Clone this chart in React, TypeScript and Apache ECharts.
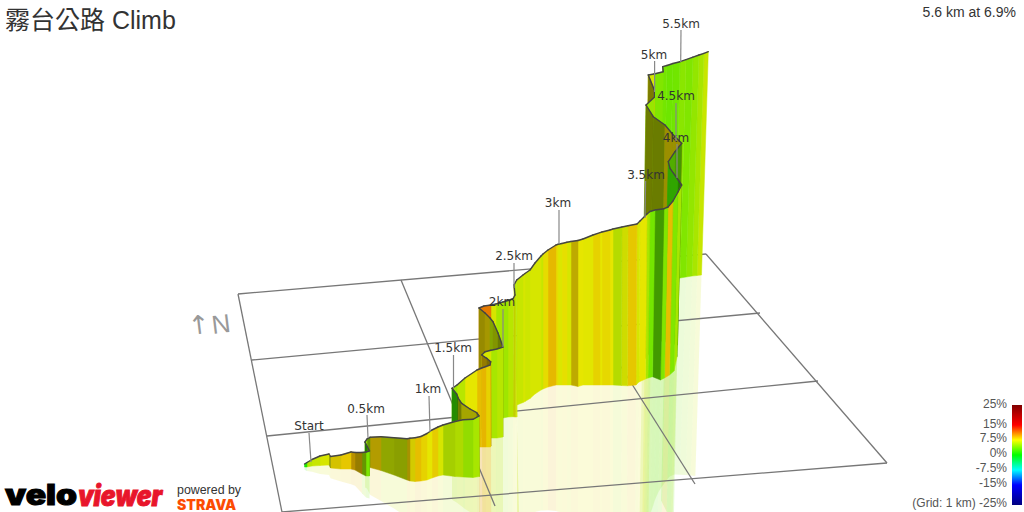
import React, { useEffect, useRef } from "react";
import * as echarts from "echarts";

// Route wall, in picture-space data units (x right, y down).
// Each row i: top of wall (routeX, routeTop), foot of wall (footX, footY), grade % of the stretch i -> i+1.
const routeX = [
  304.5, 307, 312, 320, 329, 330.5, 341, 351, 355, 362, 366, 369.5, 367.5, 365, 367,
  370, 381, 394, 407, 410, 415, 421, 427, 432, 438, 443, 455, 463, 473, 479,
  476.7, 470, 461.7, 458.3, 456.7,
  452, 457, 465, 477, 481.7, 486, 490,
  490.7, 486.7, 481.7, 485, 491, 497,
  503, 498, 493, 490, 485,
  479, 484, 491, 496, 503, 508, 513.3, 515, 514,
  516.7, 523, 525, 530, 535, 541, 543, 548, 556, 558, 562, 567, 571, 578, 583, 593, 600, 602, 610, 613, 622, 628, 637, 640, 647, 650, 655, 664, 668, 673, 678,
  681.7, 678.3, 670, 668.3, 675, 681.7, 673.3, 665, 653.3,
  646, 654.3, 654.3,
  648.3, 654, 663.3, 662.7, 667, 673, 680, 686, 693, 699, 704, 708.3,
];
const routeTop = [
  464, 462.5, 459.5, 456, 454, 456.5, 455, 452, 452.5, 452.5, 452, 451, 447, 442, 439,
  437.3, 436.7, 437.7, 438.7, 438.2, 437.8, 436.5, 433.5, 430, 427, 425, 421.5, 419.8, 419.3, 416,
  412.7, 409, 403.3, 398.3, 394,
  388.3, 385, 378, 370, 368, 366.5, 365,
  361.7, 358.3, 355, 351.7, 350.3, 349,
  347, 333, 321.7, 318, 313,
  308, 306, 305, 304, 302, 300.5, 298.3, 295, 285,
  280, 275, 273.5, 270, 263, 256, 254, 250, 245, 244.3, 243.5, 242.3, 241.5, 240.5, 239, 235, 232.7, 232, 230, 229, 227, 225.8, 224, 221, 214, 211.5, 210, 208.7, 207, 201, 192,
  185, 180, 168.3, 161.7, 151.7, 143.3, 135, 125, 116.7,
  105, 97.3, 90,
  75, 74, 71.7, 66.7, 65.5, 63.5, 61.7, 59.7, 57.2, 55, 53.4, 51.7,
];
const footX = [
  304.5, 307, 312, 320, 329, 330.5, 341, 351, 355, 362, 366, 369.5, 367.5, 365, 367,
  370, 381, 394, 407, 410, 415, 421, 427, 432, 438, 443, 455, 463, 473, 479.5,
  477, 470, 462, 458, 457,
  452, 457, 465, 477, 481.7, 486, 490.5,
  491, 487, 482, 485, 491, 497,
  503, 498, 493, 490, 485,
  479, 484, 491, 496, 503, 508, 513, 515.5, 516.8,
  517, 523, 525, 530, 535, 541, 543, 548, 556, 558, 562, 567, 571, 578, 583, 593, 600, 602, 610, 613, 621.5, 627.5, 636, 639, 645.5, 648, 652.5, 660.5, 664.5, 669.5, 674,
  677, 674.5, 666.5, 664.5, 671, 677.5, 669.5, 661.5, 649.5,
  642, 650.3, 651,
  645, 650.5, 658, 658.5, 662.5, 668, 674.5, 680, 686, 692, 697, 701.5,
];
const footY = [
  467, 467, 466, 465.5, 465, 468, 469, 469, 470, 474, 476, 476, 470, 466, 465,
  467.5, 470.5, 475, 480, 481, 481.5, 481, 480, 478, 476, 475, 476.5, 477, 477.5, 476.5,
  445, 445, 445, 440, 444,
  447, 447, 447, 447, 447, 447, 447,
  446, 440, 438, 438, 438, 438,
  437, 432, 430, 430, 430,
  428, 426, 422, 420, 418, 417, 416.7, 417, 417,
  405, 402.5, 401.5, 398.5, 394, 390, 389, 387, 385, 385, 385, 385, 385, 386.5, 385, 385, 385, 385, 385, 385, 385.5, 385.8, 385, 382, 379, 378, 376.7, 380, 378, 375, 371,
  356.7, 340, 340, 340, 342, 345, 343, 341, 353,
  363, 345, 330,
  320, 310, 300, 295, 290, 285, 280, 278, 277, 276, 275.5, 275,
];
const routeGrade = [
  1, 6, 6.5, 7, 7, 8.15, 8.5, 9.1, 8.8, 5, 4, 5, 2, 5, 5,
  8.5, 6.5, 6.5, 8.5, 7.8, 8.8, 8.15, 7.5, 8.35, 7, 6, 6, 5, 5.5, 7.5,
  7.5, 7.5, 7, 2.5, 2,
  5, 6, 7.5, 8.8, 9.1, 8.15, 9.1,
  8.5, 8.8, 7, 7, 5.5, 6,
  6.5, 6.5, 6, 8.15, 8.15,
  11, 11, 7, 5.5, 5.2, 6, 7, 7, 6,
  6.5, 7, 6.7, 7, 7, 6.5, 7.8, 9, 7.8, 7.2, 7.7, 7, 8.3, 7.5, 7.4, 8.15, 7.5, 7.95, 7.5, 6.2, 7, 8.5, 7, 7.5, 5.5, 3.8, 3.2, 4.2, 8.8, 4.2, 5.5,
  2.2, 2.2, 2.2, 3.5, 3.5, 8.1, 8.1, 6.4, 6.6,
  5, 7.8, 7.5,
  7, 4.2, 4, 3.8, 3.6, 3.7, 4.5, 4.2, 4.8, 5.5, 6.5, 7,
];

// km markers: label text and centre, then leader line start and end
const kmNames = ["Start", "0.5km", "1km", "1.5km", "2km", "2.5km", "3km", "3.5km", "4km", "4.5km", "5km", "5.5km"];
const kmLabelX = [309, 366, 428, 453, 502, 514, 558, 646, 676, 676, 654, 681];
const kmLabelY = [426, 409, 389, 348, 302, 256, 203, 175, 138, 96, 55, 24];
const kmLineX0 = [309, 367, 429, 453.5, 503, 514, 559, 645.6, 677, 676, 654.6, 681];
const kmLineY0 = [433, 415, 396, 355, 309, 263, 210, 181, 144, 103, 61, 30];
const kmLineX1 = [311, 368, 430, 453.5, 503, 514, 559, 645, 677, 676, 654.6, 680.7];
const kmLineY1 = [462, 438, 432, 388, 347, 288, 244, 218, 178, 141, 92, 62];

// ground grid: x0, y0, x1, y1
const groundLines = [
  [238, 294, 706, 254],
  [252, 360, 760, 313],
  [267, 436, 818, 381],
  [282, 512, 887, 463],
  [238, 294, 285, 527],
  [401, 280, 495, 506],
  [558, 267, 695, 484],
  [706, 254, 887, 463],
];

// colour scale of the legend
const scaleGrades = [25, 15, 7.5, 0, -7.5, -15, -25];
const scaleColors = [
  [128, 0, 0],
  [255, 0, 0],
  [255, 255, 0],
  [0, 255, 0],
  [0, 255, 255],
  [0, 0, 255],
  [0, 0, 128],
];
const legendTexts = ["25%", "15%", "7.5%", "0%", "-7.5%", "-15%", "(Grid: 1 km) -25%"];
const legendTextY = [404, 424, 438, 453, 468, 483, 503];

const TITLE = "霧台公路 Climb";
const SUMMARY = "5.6 km at 6.9%";

function gradeRgb(g: number): number[] {
  for (let k = 0; k < scaleGrades.length - 1; k++) {
    const a = scaleGrades[k];
    const b = scaleGrades[k + 1];
    if (g <= a && g >= b) {
      const t = (a - g) / (a - b);
      return scaleColors[k].map((c, n) => c + (scaleColors[k + 1][n] - c) * t);
    }
  }
  return scaleColors[3];
}
const css = (c: number[], f = 1) => `rgb(${c.map((v) => Math.round(v * f)).join(",")})`;

// walls facing the viewer are lit; turned away or inner faces are darker
function wallLight(i: number): number {
  const dx = footX[i + 1] - footX[i];
  const dy = footY[i + 1] - footY[i];
  if (dx <= 0) return 0.72 - 0.18 * Math.min(1, Math.abs(dy / (dx || 1)));
  const t = dy / dx;
  return t <= 0 ? 1 : 1 - Math.min(0.34, t * 0.8);
}

const MIRROR = 0.9;

export default function App() {
  const ref = useRef<HTMLDivElement>(null);
  useEffect(() => {
    document.body.style.margin = "0";
    const chart = echarts.init(ref.current!, undefined, { renderer: "svg" });
    const segs = routeX.slice(0, -1).map((_, i) => [i, 0]);
    const back = [...segs].reverse();
    const front = back.filter(([i]) => footX[i + 1] > footX[i]);
    const ARIAL = '"Liberation Sans", "Noto Sans CJK TC", sans-serif';
    const legendStops = scaleGrades.map((g, k) => ({
      offset: (25 - g) / 50,
      color: css(scaleColors[k]),
    }));
    chart.setOption({
      animation: false,
      backgroundColor: "#fff",
      grid: { left: 0, right: 0, top: 0, bottom: 0 },
      xAxis: { type: "value", min: 0, max: 1024, show: false },
      yAxis: { type: "value", min: 0, max: 512, inverse: true, show: false },
      series: [
        {
          type: "custom",
          coordinateSystem: "cartesian2d",
          silent: true,
          clip: true,
          z: 1,
          data: front,
          renderItem: (_p: any, api: any) => {
            const i = api.value(0);
            const mx = (k: number) => footX[k] + (footX[k] - routeX[k]) * MIRROR;
            const my = (k: number) => footY[k] + (footY[k] - routeTop[k]) * MIRROR;
            return {
              type: "polygon",
              shape: {
                points: [
                  api.coord([footX[i], footY[i]]),
                  api.coord([footX[i + 1], footY[i + 1]]),
                  api.coord([mx(i + 1), my(i + 1)]),
                  api.coord([mx(i), my(i)]),
                ],
              },
              style: { fill: css(gradeRgb(routeGrade[i]), 0.9), opacity: 0.15 },
            };
          },
        },
        {
          type: "custom",
          coordinateSystem: "cartesian2d",
          silent: true,
          z: 2,
          data: groundLines.map((_, i) => [i, 0]),
          renderItem: (_p: any, api: any) => {
            const [x0, y0, x1, y1] = groundLines[api.value(0)];
            const a = api.coord([x0, y0]);
            const b = api.coord([x1, y1]);
            return {
              type: "line",
              shape: { x1: a[0], y1: a[1], x2: b[0], y2: b[1] },
              style: { stroke: "#777", lineWidth: 1.3 },
            };
          },
        },
        {
          type: "custom",
          coordinateSystem: "cartesian2d",
          silent: true,
          z: 3,
          data: back,
          renderItem: (_p: any, api: any) => {
            const i = api.value(0);
            const fill = css(gradeRgb(routeGrade[i]), 0.9 * wallLight(i));
            const a = api.coord([routeX[i], routeTop[i]]);
            const b = api.coord([routeX[i + 1], routeTop[i + 1]]);
            return {
              type: "group",
              children: [
                {
                  type: "polygon",
                  shape: {
                    points: [a, b, api.coord([footX[i + 1], footY[i + 1]]), api.coord([footX[i], footY[i]])],
                  },
                  style: { fill, stroke: fill, lineWidth: 0.5 },
                },
                {
                  type: "polyline",
                  shape: { points: [a, b] },
                  style: { stroke: "#444", lineWidth: 1.4, fill: "none", lineCap: "round" },
                },
              ],
            };
          },
        },
        {
          type: "custom",
          coordinateSystem: "cartesian2d",
          silent: true,
          z: 4,
          data: kmNames.map((_, i) => [i, 0]),
          renderItem: (_p: any, api: any) => {
            const i = api.value(0);
            const a = api.coord([kmLineX0[i], kmLineY0[i]]);
            const b = api.coord([kmLineX1[i], kmLineY1[i]]);
            const t = api.coord([kmLabelX[i], kmLabelY[i]]);
            return {
              type: "group",
              children: [
                {
                  type: "line",
                  shape: { x1: a[0], y1: a[1], x2: b[0], y2: b[1] },
                  style: { stroke: "#888", lineWidth: 1.2 },
                },
                {
                  type: "text",
                  style: {
                    x: t[0],
                    y: t[1],
                    text: kmNames[i],
                    textAlign: "center",
                    textVerticalAlign: "middle",
                    fill: "#333",
                    font: '12px "DejaVu Sans", sans-serif',
                  },
                },
              ],
            };
          },
        },
      ],
      graphic: [
        {
          type: "text",
          x: 5,
          y: 20,
          style: { text: TITLE, font: `25px ${ARIAL}`, fill: "#333", textVerticalAlign: "middle" },
        },
        {
          type: "text",
          x: 1016,
          y: 12,
          style: { text: SUMMARY, font: `14px ${ARIAL}`, fill: "#333", textAlign: "right", textVerticalAlign: "middle" },
        },
        {
          type: "text",
          x: 199,
          y: 325,
          rotation: 0.12,
          style: { text: "↑", font: '26px "DejaVu Sans", sans-serif', fill: "#999", textAlign: "center", textVerticalAlign: "middle" },
        },
        {
          type: "text",
          x: 221,
          y: 324,
          rotation: 0.12,
          style: { text: "N", font: `26px ${ARIAL}`, fill: "#999", textAlign: "center", textVerticalAlign: "middle" },
        },
        ...legendTexts.map((text, i) => ({
          type: "text",
          x: 1007,
          y: legendTextY[i],
          style: { text, font: `12px ${ARIAL}`, fill: "#555", textAlign: "right", textVerticalAlign: "middle" },
        })),
        {
          type: "rect",
          shape: { x: 1012, y: 405, width: 10, height: 100 },
          style: { fill: new echarts.graphic.LinearGradient(0, 0, 0, 1, legendStops) },
        },
        {
          type: "text",
          x: 5,
          y: 495,
          scaleX: 1.2,
          style: { text: "velo", font: '900 28px Inter, "Liberation Sans", sans-serif', fill: "#000", stroke: "#000", lineWidth: 1, textVerticalAlign: "middle" },
        },
        {
          type: "text",
          x: 78,
          y: 495,
          scaleX: 0.88,
          style: { text: "viewer", font: 'italic 900 28px Inter, "Liberation Sans", sans-serif', fill: "#e8152b", stroke: "#e8152b", lineWidth: 1, textVerticalAlign: "middle" },
        },
        {
          type: "text",
          x: 177,
          y: 490,
          style: { text: "powered by", font: `12.4px ${ARIAL}`, fill: "#333", textVerticalAlign: "middle" },
        },
        {
          type: "text",
          x: 177,
          y: 504.5,
          style: { text: "STRAVA", font: `900 14px Inter, ${ARIAL}`, fill: "#fc4c02", textVerticalAlign: "middle" },
        },
      ],
    });
    return () => chart.dispose();
  }, []);
  return (
    <div
      ref={ref}
      style={{ position: "fixed", left: 0, top: 0, width: 1024, height: 512, overflow: "hidden", background: "#fff" }}
    />
  );
}
